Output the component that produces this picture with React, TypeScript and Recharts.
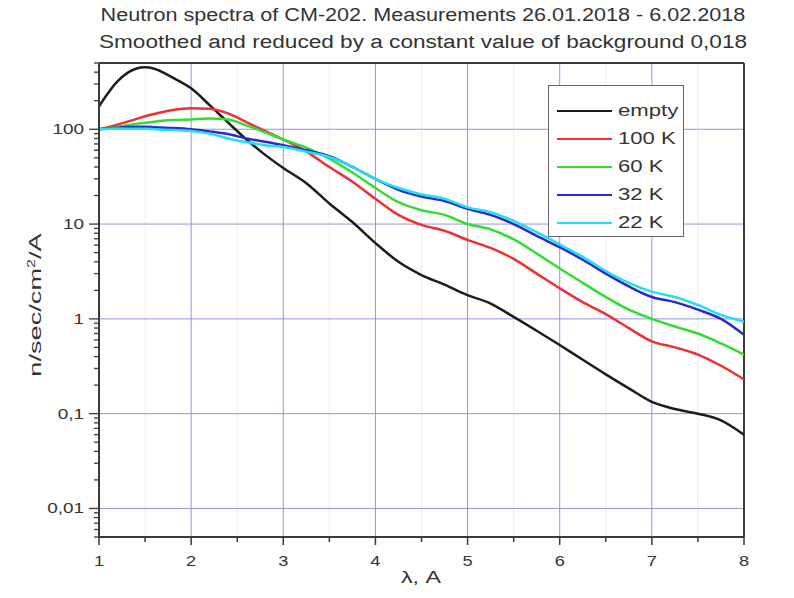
import React from 'react';
import { LineChart, Line, XAxis, YAxis, ReferenceLine, Legend } from 'recharts';

const lambda = [1.0, 1.2, 1.4, 1.5, 1.6, 1.8, 2.0, 2.2, 2.4, 2.6, 2.8, 3.0, 3.25, 3.5, 3.75, 4.0, 4.25, 4.5, 4.75, 5.0, 5.25, 5.5, 5.75, 6.0, 6.25, 6.5, 6.75, 7.0, 7.25, 7.5, 7.75, 8.0];
const empty = [175, 320, 435, 450, 435, 350, 270, 180, 118, 78, 54, 39, 27, 16.5, 10.5, 6.3, 4.0, 2.9, 2.3, 1.78, 1.45, 1.05, 0.75, 0.53, 0.37, 0.26, 0.185, 0.133, 0.112, 0.1, 0.085, 0.06];
const k100 = [100, 112, 128, 137, 145, 160, 167, 165, 147, 119, 96, 78, 58, 40, 28, 18.5, 12.5, 9.8, 8.5, 6.8, 5.6, 4.3, 3.0, 2.1, 1.5, 1.12, 0.8, 0.58, 0.5, 0.42, 0.32, 0.23];
const k60 = [100, 106, 114, 117, 120, 125, 127, 130, 127, 110, 93, 78, 64, 49, 35, 24, 17, 14, 12.5, 10, 8.8, 6.9, 4.9, 3.4, 2.4, 1.7, 1.25, 1.0, 0.83, 0.7, 0.55, 0.42];
const k32 = [100, 104, 106, 106, 105, 103, 100, 95, 89, 80, 74, 68, 60, 52, 40, 30, 23, 19.5, 17.5, 14.5, 12.5, 10, 7.5, 5.7, 4.2, 3.0, 2.2, 1.7, 1.5, 1.25, 1.0, 0.68];
const k22 = [100, 102, 101, 101, 100, 98, 96, 90, 80, 73, 68, 65, 58, 51, 40, 30, 24, 20.5, 18.5, 15, 13.3, 10.8, 8.2, 6.1, 4.5, 3.2, 2.4, 1.94, 1.7, 1.4, 1.1, 0.93];

const seriesNames = ['empty', '100 K', '60 K', '32 K', '22 K'];
const seriesKeys = ['empty', 'k100', 'k60', 'k32', 'k22'];
const seriesColors = ['#1c1c1c', '#f03030', '#30dd30', '#2a2ad0', '#20e0f0'];

const titleLines = [
  'Neutron spectra of CM-202. Measurements 26.01.2018 - 6.02.2018',
  'Smoothed and reduced by a constant value of background 0,018',
];
const titleStretch = [1.2, 1.255];

const xMajor = [1, 2, 3, 4, 5, 6, 7, 8];
const xMinor = [1.5, 2.5, 3.5, 4.5, 5.5, 6.5, 7.5];
const yMajor = [0.01, 0.1, 1, 10, 100];
const yMajorLabels = ['0,01', '0,1', '1', '10', '100'];
const yMinorMult = [2, 3, 4, 5, 6, 7, 8, 9];
const yDomain: [number, number] = [0.005, 500];

const data = lambda.map((l, i) => ({
  l,
  empty: empty[i],
  k100: k100[i],
  k60: k60[i],
  k32: k32[i],
  k22: k22[i],
}));

const yMinor: number[] = [];
[0.001, 0.01, 0.1, 1, 10, 100].forEach((d) => {
  yMinorMult.forEach((m) => {
    const v = +(d * m).toPrecision(3);
    if (v >= yDomain[0] && v <= yDomain[1]) yMinor.push(v);
  });
});
const yTicks = [...yMajor, ...yMinor].sort((a, b) => a - b);
const xTicks = [...xMajor, ...xMinor].sort((a, b) => a - b);

const FONT = '"Liberation Sans", Arial, sans-serif';
const AXIS = '#3a3a3a';
const TXT = '#333';

const XTick = (props: any) => {
  const { x, y, payload } = props;
  const v = payload.value;
  const major = xMajor.includes(v);
  return (
    <g>
      <line x1={x} x2={x} y1={y} y2={y + (major ? 8 : 5)} stroke={AXIS} strokeWidth={1.5} />
      {major && (
        <text
          transform={`translate(${x},${y + 29}) scale(1.3,1)`}
          x={0}
          y={0}
          textAnchor="middle"
          fontSize={14}
          fill={TXT}
          fontFamily={FONT}
        >
          {v}
        </text>
      )}
    </g>
  );
};

const YTick = (props: any) => {
  const { x, y, payload } = props;
  const v = payload.value;
  const idx = yMajor.findIndex((m) => Math.abs(m - v) / m < 1e-6);
  const major = idx >= 0;
  return (
    <g>
      <line x1={x - (major ? 10 : 5)} x2={x} y1={y} y2={y} stroke={AXIS} strokeWidth={1.3} />
      {major && (
        <text
          transform={`translate(${x - 15},${y + 5}) scale(1.35,1)`}
          x={0}
          y={0}
          textAnchor="end"
          fontSize={14}
          fill={TXT}
          fontFamily={FONT}
        >
          {yMajorLabels[idx]}
        </text>
      )}
    </g>
  );
};

const LegendBox = () => (
  <div
    style={{
      width: 136,
      height: 152,
      boxSizing: 'border-box',
      border: '1.5px solid #666',
      background: '#fff',
      paddingTop: 11,
      fontFamily: FONT,
      fontSize: 17,
      color: TXT,
    }}
  >
    {seriesNames.map((n, i) => (
      <div key={n} style={{ display: 'flex', alignItems: 'center', height: 28 }}>
        <span
          style={{
            display: 'inline-block',
            marginLeft: 8,
            width: 55,
            height: 0,
            borderTop: `2.7px solid ${seriesColors[i]}`,
            marginRight: 6,
          }}
        />
        <span style={{ display: 'inline-block', transform: 'scaleX(1.3)', transformOrigin: 'left center', whiteSpace: 'nowrap' }}>
          {n}
        </span>
      </div>
    ))}
  </div>
);

export default function App() {
  return (
    <div style={{ position: 'absolute', left: 0, top: 0, width: 794, height: 598, background: '#fff', overflow: 'hidden' }}>
      <div
        style={{
          position: 'absolute',
          left: 0,
          width: 846,
          top: 2,
          textAlign: 'center',
          fontFamily: FONT,
          fontSize: 18,
          lineHeight: '27px',
          color: TXT,
          zIndex: 2,
        }}
      >
        {titleLines.map((t, i) => (
          <div key={t} style={{ transform: `scaleX(${titleStretch[i]})`, whiteSpace: 'nowrap' }}>
            {t}
          </div>
        ))}
      </div>
      <LineChart
        width={794}
        height={598}
        data={data}
        margin={{ top: 63, right: 50, bottom: 31, left: 39 }}
      >
        <XAxis
          dataKey="l"
          type="number"
          domain={[1, 8]}
          ticks={xTicks}
          interval={0}
          tickSize={0}
          tickMargin={0}
          tickLine={false}
          tick={<XTick />}
          height={30}
          axisLine={{ stroke: AXIS, strokeWidth: 2 }}
          allowDataOverflow
        />
        <YAxis
          type="number"
          scale="log"
          domain={yDomain}
          ticks={yTicks}
          interval={0}
          tickSize={0}
          tickMargin={0}
          tickLine={false}
          tick={<YTick />}
          width={60}
          axisLine={{ stroke: AXIS, strokeWidth: 2 }}
          allowDataOverflow
        />
        {xMinor.map((v) => (
          <ReferenceLine key={'mx' + v} x={v} stroke="#ececf6" strokeWidth={1} />
        ))}
        {xMajor.slice(1, -1).map((v) => (
          <ReferenceLine key={'gx' + v} x={v} stroke="#9494e0" strokeWidth={1} />
        ))}
        {yMajor.map((v) => (
          <ReferenceLine key={'gy' + v} y={v} stroke="#9494e0" strokeWidth={1} />
        ))}
        <ReferenceLine x={8} stroke={AXIS} strokeWidth={2} />
        <ReferenceLine y={500} stroke={AXIS} strokeWidth={2} />
        {seriesKeys.map((k, i) => (
          <Line
            key={k}
            dataKey={k}
            name={seriesNames[i]}
            type="monotone"
            stroke={seriesColors[i]}
            strokeWidth={2.5}
            dot={false}
            isAnimationActive={false}
          />
        ))}
        <Legend
          layout="vertical"
          align="center"
          verticalAlign="middle"
          wrapperStyle={{ left: 548, top: 85, width: 136, height: 152 }}
          content={<LegendBox />}
        />
      </LineChart>
      <div
        style={{
          position: 'absolute',
          left: 421,
          top: 578,
          transform: 'translate(-50%, -50%) scaleX(1.45)',
          whiteSpace: 'nowrap',
          fontFamily: FONT,
          fontSize: 16,
          color: TXT,
        }}
      >
        λ, A
      </div>
      <div
        style={{
          position: 'absolute',
          left: 36,
          top: 305,
          transform: 'translate(-50%, -50%) rotate(-90deg) scaleX(1.6)',
          whiteSpace: 'nowrap',
          fontFamily: FONT,
          fontSize: 17,
          color: TXT,
        }}
      >
        n/sec/cm<sup style={{ fontSize: 10 }}>2</sup>/A
      </div>
    </div>
  );
}
